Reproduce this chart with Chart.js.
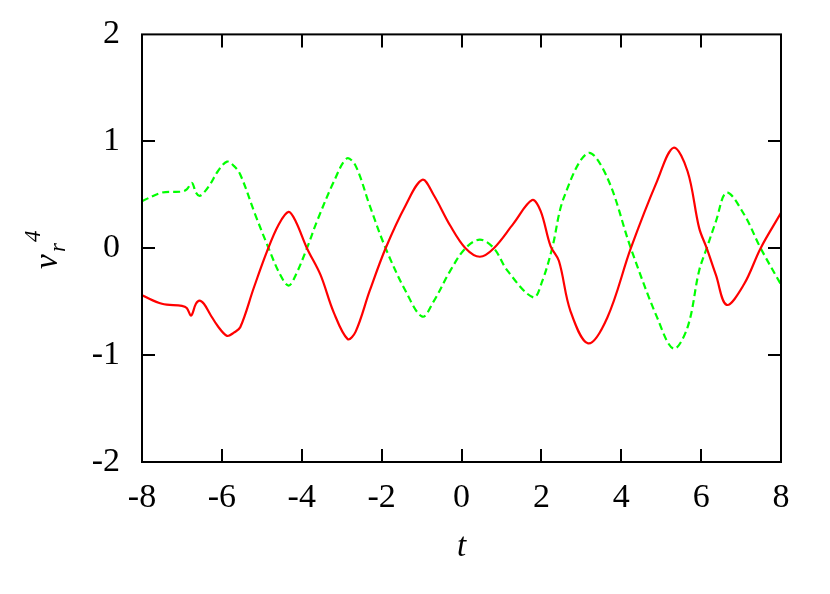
<!DOCTYPE html>
<html>
<head>
<meta charset="utf-8">
<script src="https://cdn.jsdelivr.net/npm/chart.js@4"></script>
<style>
  html, body { margin: 0; padding: 0; background: #fff; }
  #wrap { width: 830px; height: 594px; }
</style>
</head>
<body>
<div id="wrap"><canvas id="grafico" width="830" height="594"></canvas></div>
<script>
// valores
const tVermelho = [-8, -7.5, -7, -6.88, -6.77, -6.65, -6.56, -6.45, -6.29, -6.1, -5.87, -5.7, -5.54, -5.2, -4.87, -4.58, -4.33, -4.15, -3.87, -3.53, -3.2, -2.85, -2.65, -2.3, -1.9, -1.4, -0.98, -0.7, -0.28, 0.1, 0.46, 0.81, 1.3, 1.77, 1.98, 2.23, 2.44, 2.73, 3.17, 3.65, 4.24, 4.9, 5.31, 5.66, 5.95, 6.14, 6.37, 6.64, 7.07, 7.49, 8];
const vVermelho = [-0.44, -0.52, -0.54, -0.56, -0.63, -0.52, -0.49, -0.52, -0.62, -0.73, -0.82, -0.79, -0.74, -0.37, -0.03, 0.22, 0.34, 0.25, 0.0, -0.25, -0.6, -0.85, -0.78, -0.4, 0.0, 0.4, 0.64, 0.5, 0.21, 0.0, -0.08, 0.0, 0.23, 0.45, 0.35, 0.02, -0.12, -0.59, -0.89, -0.65, 0.0, 0.63, 0.94, 0.72, 0.19, 0.0, -0.25, -0.53, -0.34, 0.0, 0.33];

const tVerde = [-8, -7.5, -7, -6.88, -6.75, -6.65, -6.56, -6.45, -6.29, -6.1, -5.87, -5.7, -5.54, -5.16, -4.83, -4.55, -4.33, -4.15, -3.87, -3.62, -3.2, -2.87, -2.65, -2.3, -1.9, -1.4, -0.98, -0.7, -0.28, 0.1, 0.46, 0.81, 1.15, 1.8, 2.02, 2.27, 2.56, 3.17, 3.65, 4.24, 4.9, 5.31, 5.66, 5.95, 6.14, 6.37, 6.64, 7.07, 7.49, 8];
const vVerde = [0.44, 0.52, 0.53, 0.55, 0.61, 0.52, 0.49, 0.52, 0.6, 0.72, 0.81, 0.77, 0.69, 0.31, 0.0, -0.24, -0.35, -0.25, 0.0, 0.25, 0.62, 0.84, 0.77, 0.4, 0.0, -0.4, -0.64, -0.5, -0.21, 0.0, 0.08, 0.0, -0.21, -0.46, -0.31, 0.0, 0.47, 0.89, 0.66, 0.0, -0.65, -0.94, -0.74, -0.21, 0.0, 0.25, 0.52, 0.32, 0.0, -0.34];

const ticksX = [-8, -6, -4, -2, 0, 2, 4, 6, 8];
const ticksY = [-2, -1, 0, 1, 2];

const FONTE = "'Liberation Serif', 'DejaVu Serif', serif";

function pontos(ts, vs) {
  return ts.map((t, i) => ({ x: t, y: vs[i] }));
}

// moldura, marcas para dentro e rótulos dos eixos
const moldura = {
  id: "moldura",
  afterDraw(chart) {
    const { ctx, chartArea: a, scales } = chart;
    const tl = 13;
    ctx.save();
    ctx.strokeStyle = "#000";
    ctx.lineWidth = 2;
    ctx.beginPath();
    ticksX.forEach((v) => {
      const px = Math.round(scales.x.getPixelForValue(v));
      if (v === -8 || v === 8) return;
      ctx.moveTo(px, a.bottom); ctx.lineTo(px, a.bottom - tl);
      ctx.moveTo(px, a.top); ctx.lineTo(px, a.top + tl);
    });
    ticksY.forEach((v) => {
      const py = Math.round(scales.y.getPixelForValue(v));
      if (v === -2 || v === 2) return;
      ctx.moveTo(a.left, py); ctx.lineTo(a.left + tl, py);
      ctx.moveTo(a.right, py); ctx.lineTo(a.right - tl, py);
    });
    ctx.stroke();
    ctx.strokeRect(a.left, a.top, a.right - a.left, a.bottom - a.top);

    // t
    ctx.fillStyle = "#000";
    ctx.textAlign = "center";
    ctx.textBaseline = "alphabetic";
    ctx.font = "italic 33px " + FONTE;
    ctx.fillText("t", (a.left + a.right) / 2, 556);

    // v_r^4
    ctx.translate(57, 269);
    ctx.rotate(-Math.PI / 2);
    ctx.textAlign = "left";
    ctx.font = "italic 33px " + FONTE;
    ctx.fillText("v", 0, 0);
    ctx.font = "italic 23px " + FONTE;
    ctx.fillText("r", 17, 8);
    ctx.fillText("4", 27, -17);
    ctx.restore();
  },
};

const ctx = document.getElementById("grafico").getContext("2d");
const grafico = new Chart(ctx, {
  type: "line",
  data: {
    datasets: [
      {
        data: pontos(tVermelho, vVermelho),
        borderColor: "rgb(255, 0, 0)",
        borderWidth: 2.2,
        pointRadius: 0,
        tension: 0.35,
      },
      {
        data: pontos(tVerde, vVerde),
        borderColor: "rgb(0, 255, 0)",
        borderWidth: 2.2,
        borderDash: [7, 4],
        pointRadius: 0,
        tension: 0.35,
      },
    ],
  },
  options: {
    responsive: false,
    animation: false,
    layout: { padding: { top: 26, right: 49, left: 0, bottom: 0 } },
    plugins: { legend: { display: false }, tooltip: { enabled: false } },
    scales: {
      x: {
        type: "linear",
        min: -8,
        max: 8,
        afterFit: (s) => { s.height = 132; },
        afterBuildTicks: (s) => { s.ticks = ticksX.map((v) => ({ value: v })); },
        grid: { display: false },
        border: { display: false },
        ticks: { color: "#000", font: { family: FONTE, size: 34 }, padding: 8, maxRotation: 0 },
      },
      y: {
        min: -2,
        max: 2,
        afterFit: (s) => { s.width = 142; },
        afterBuildTicks: (s) => { s.ticks = ticksY.map((v) => ({ value: v })); },
        grid: { display: false },
        border: { display: false },
        ticks: { color: "#000", font: { family: FONTE, size: 34 }, padding: 14 },
      },
    },
  },
  plugins: [moldura],
});
</script>
</body>
</html>
